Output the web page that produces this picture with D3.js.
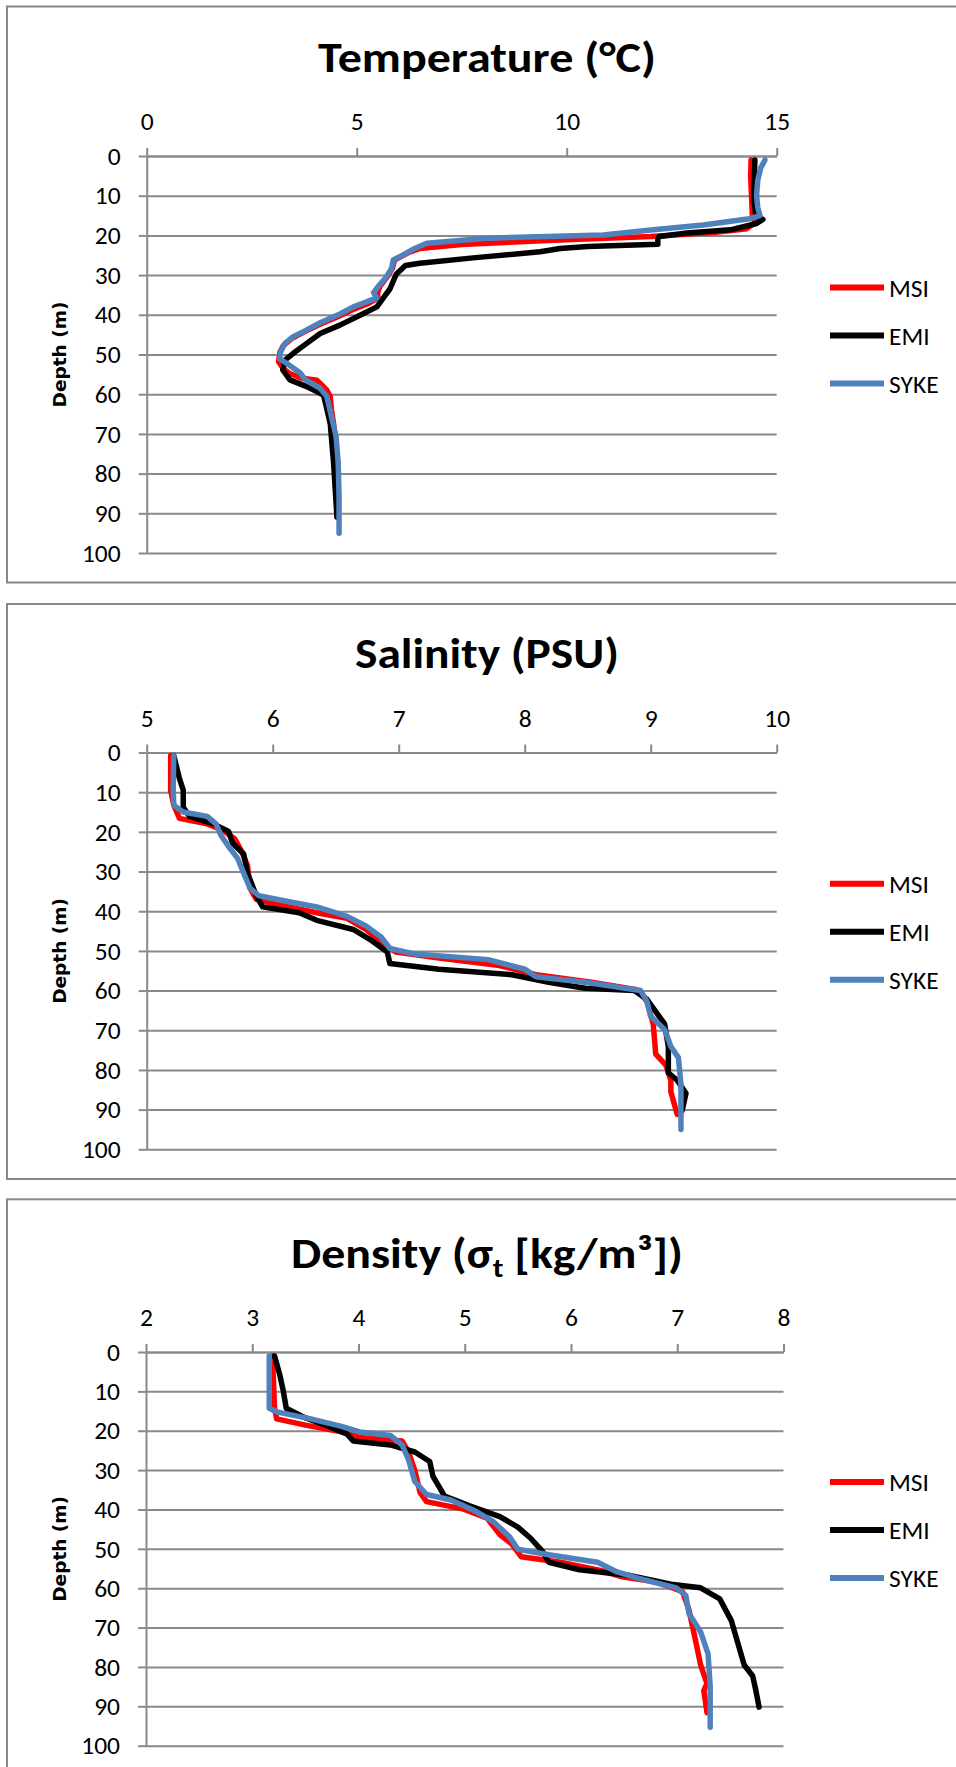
<!DOCTYPE html>
<html>
<head>
<meta charset="utf-8">
<script src="https://cdn.jsdelivr.net/npm/d3@7"></script>
<style>
  body { margin: 0; background: #fff; }
  svg { display: block; }
  .tick text { font-family: Carlito, Calibri, "Liberation Sans", sans-serif; font-size: 25.5px; fill: #000; }
</style>
</head>
<body>
<svg id="chart"></svg>
<script>
// series are [value, depth] pairs
const depthTicks = [0, 10, 20, 30, 40, 50, 60, 70, 80, 90, 100];
const seriesNames = ["MSI", "EMI", "SYKE"];
const seriesColors = ["#ff0000", "#000000", "#4f81bd"];

const tempTicks = [0, 5, 10, 15];
const tempMSI = [[14.39,1],[14.38,5],[14.4,10],[14.42,15],[14.5,16],[14.45,17],[14.29,18.3],[13.5,19.3],[12.0,20.3],[9.7,21.2],[7.5,22.3],[6.5,23.3],[6.2,24.5],[5.9,26.2],[5.85,28.3],[5.73,30.4],[5.55,32.9],[5.5,34.4],[5.5,35.8],[5.3,37],[4.95,38.5],[4.55,40.5],[4.1,42.5],[3.75,44.3],[3.45,46],[3.25,47.8],[3.17,49.5],[3.14,51.8],[3.25,53.5],[3.41,54.8],[3.7,56],[4.05,56.5],[4.15,57.5],[4.29,59],[4.37,60.6],[4.4,64],[4.45,67.4],[4.48,72],[4.51,78],[4.52,85],[4.53,91]];
const tempEMI = [[14.48,1],[14.47,5],[14.45,10],[14.5,15],[14.67,16],[14.52,17],[13.9,18.6],[12.86,19.4],[12.2,20.3],[12.17,21],[12.17,22.2],[10.5,22.8],[9.84,23.3],[9.37,24.1],[7.83,25.6],[6.5,27.0],[6.16,27.6],[5.94,29.8],[5.79,33.5],[5.63,35.8],[5.48,38],[5.08,40.1],[4.6,42.6],[4.13,44.7],[3.81,47.2],[3.49,49.7],[3.29,51.4],[3.24,53.9],[3.41,56.4],[3.81,58.1],[4.21,60.2],[4.37,67.4],[4.45,77.4],[4.53,90.9]];
const tempSYKE = [[14.72,1],[14.62,3],[14.55,6],[14.52,10],[14.55,13],[14.6,15],[14.36,15.8],[14.13,16.1],[13.25,17.4],[12.06,18.6],[10.87,19.9],[8.1,20.7],[6.67,22],[6.38,23.3],[6.11,24.9],[5.87,26.2],[5.83,28.3],[5.71,30.4],[5.51,32.9],[5.4,34.4],[5.48,35.8],[5.24,36.7],[4.92,38],[4.6,39.8],[4.13,42],[3.81,43.8],[3.49,45.5],[3.29,47.2],[3.19,49.3],[3.16,51],[3.33,52.2],[3.65,54.6],[3.77,56.3],[4.13,58.5],[4.29,60.6],[4.4,65.7],[4.51,70.7],[4.56,77.4],[4.58,85.8],[4.58,95]];

const salTicks = [5, 6, 7, 8, 9, 10];
const salMSI = [[5.19,0.8],[5.19,9.5],[5.215,13.3],[5.26,16.6],[5.48,18],[5.6,19.5],[5.7,21.8],[5.75,24.7],[5.8,28.5],[5.82,34.2],[5.87,37],[6.06,38.5],[6.35,40.4],[6.59,41.8],[6.74,44.6],[6.88,48.4],[6.98,50.3],[7.32,51.8],[7.8,53.7],[8.09,56],[8.53,57.9],[8.89,59.8],[8.97,62.7],[9.02,68.4],[9.04,76],[9.12,78.8],[9.16,82.6],[9.16,85.5],[9.21,91.2]];
const salEMI = [[5.215,0.8],[5.26,6.6],[5.29,9.5],[5.29,13.8],[5.34,16.1],[5.53,18],[5.65,19.9],[5.68,22.8],[5.77,25.6],[5.8,30.4],[5.87,36.1],[5.92,38.9],[6.21,40.4],[6.35,42.3],[6.64,44.6],[6.79,47.5],[6.91,50.3],[6.93,53.2],[7.32,54.6],[7.9,56],[8.19,57.9],[8.48,59.4],[8.87,60],[8.97,62.2],[9.11,68.4],[9.14,74.1],[9.14,80.7],[9.21,82.6],[9.28,85.9],[9.25,90.2]];
const salSYKE = [[5.215,0.8],[5.21,9.5],[5.215,13.3],[5.29,15],[5.48,16.1],[5.55,18],[5.59,20.9],[5.65,23.7],[5.72,26.6],[5.77,30.4],[5.82,34.2],[5.89,36.1],[6.11,37.5],[6.35,38.9],[6.59,41.3],[6.74,43.7],[6.86,46.5],[6.93,49.4],[7.13,50.8],[7.71,52.2],[8.0,54.6],[8.09,56.5],[8.48,57.9],[8.92,60],[8.97,62.7],[9.0,66.5],[9.11,69.8],[9.16,74.1],[9.22,76.9],[9.24,83.6],[9.24,95]];

const denTicks = [2, 3, 4, 5, 6, 7, 8];
const denMSI = [[3.19,1],[3.21,14.3],[3.23,17],[3.49,18.5],[3.84,20.3],[4.01,21.7],[4.41,22.6],[4.47,25.4],[4.53,30.1],[4.58,35.7],[4.64,38],[4.99,39.9],[5.21,42.2],[5.33,46.4],[5.44,48.7],[5.53,52],[5.9,53.4],[6.31,55.7],[6.48,57.1],[6.82,58.5],[7.05,60.9],[7.11,65.5],[7.17,73],[7.22,79.5],[7.28,84.2],[7.25,86],[7.28,91.6]];
const denEMI = [[3.21,1],[3.26,5.9],[3.29,9.6],[3.32,14.3],[3.49,16.6],[3.72,18.9],[3.89,20.8],[3.95,22.6],[4.3,23.6],[4.53,25.4],[4.67,27.8],[4.7,31.5],[4.81,36.6],[5.04,39],[5.33,41.8],[5.5,44.5],[5.62,47.3],[5.73,50.6],[5.79,53.4],[6.08,55.3],[6.54,56.7],[6.94,59],[7.22,59.9],[7.4,62.7],[7.51,68.3],[7.57,73.9],[7.63,79.5],[7.71,82.3],[7.74,86],[7.77,90.2]];
const denSYKE = [[3.16,1],[3.16,14.3],[3.23,15.2],[3.55,17],[3.84,18.9],[4.01,20.3],[4.3,21.2],[4.41,23.6],[4.47,27.3],[4.53,32.9],[4.64,36.2],[4.87,37.6],[5.1,40.4],[5.27,43.1],[5.42,46.9],[5.5,50.1],[5.79,51.5],[6.25,53.4],[6.42,55.7],[6.65,57.6],[6.99,59.9],[7.08,61.8],[7.11,66.4],[7.22,71.1],[7.29,76.7],[7.31,85.1],[7.31,95.3]];

const W = 956, H = 1767;
const svg = d3.select("#chart").attr("width", W).attr("height", H);

const panels = [
  { top: 6.5, h: 576, x0: 146.7, x1: 776.7, y0: 156, y1: 553, dom: [0, 15], ticks: tempTicks,
    series: [tempMSI, tempEMI, tempSYKE], title: "temp", titleY: 71.5, titleW: 338, legY: 287.6 },
  { top: 604, h: 575, x0: 146.7, x1: 776.7, y0: 752.5, y1: 1149.3, dom: [5, 10], ticks: salTicks,
    series: [salMSI, salEMI, salSYKE], title: "sal", titleY: 668.3, titleW: 264, legY: 883.7 },
  { top: 1199.3, h: 700, x0: 146, x1: 783.5, y0: 1352, y1: 1745.7, dom: [2, 8], ticks: denTicks,
    series: [denMSI, denEMI, denSYKE], title: "den", titleY: 1268, titleW: 392, legY: 1481.9 }
];

const grey = "#898989";

panels.forEach(p => {
  const g = svg.append("g");

  g.append("rect")
    .attr("x", 7).attr("y", p.top)
    .attr("width", 1100).attr("height", p.h)
    .attr("fill", "#fff").attr("stroke", grey).attr("stroke-width", 2);

  const x = d3.scaleLinear().domain(p.dom).range([p.x0, p.x1]);
  const y = d3.scaleLinear().domain([0, 100]).range([p.y0, p.y1]);

  // horizontal gridlines
  g.append("g")
    .attr("transform", `translate(${p.x0},0)`)
    .call(d3.axisLeft(y).tickValues(depthTicks).tickSize(-(p.x1 - p.x0)).tickFormat(""))
    .call(a => a.select(".domain").remove())
    .call(a => a.selectAll("line").attr("stroke", grey).attr("stroke-width", 2));

  // depth axis
  g.append("g")
    .attr("transform", `translate(${p.x0},0)`)
    .call(d3.axisLeft(y).tickValues(depthTicks).tickSize(8).tickSizeOuter(0).tickPadding(18).tickFormat(d3.format("d")))
    .call(a => a.select(".domain").attr("stroke", grey).attr("stroke-width", 2))
    .call(a => a.selectAll("line").attr("stroke", grey).attr("stroke-width", 2));

  // value axis on top
  g.append("g")
    .attr("transform", `translate(0,${p.y0})`)
    .call(d3.axisTop(x).tickValues(p.ticks).tickSize(8).tickSizeOuter(0).tickPadding(18).tickFormat(d3.format("d")))
    .call(a => a.select(".domain").attr("stroke", grey).attr("stroke-width", 2))
    .call(a => a.selectAll("line").attr("stroke", grey).attr("stroke-width", 2));

  const line = d3.line().x(d => x(d[0])).y(d => y(d[1]));
  g.append("g")
    .selectAll("path")
    .data(p.series)
    .join("path")
    .attr("d", line)
    .attr("fill", "none")
    .attr("stroke", (d, i) => seriesColors[i])
    .attr("stroke-width", 5.5)
    .attr("stroke-linejoin", "round")
    .attr("stroke-linecap", "round");

  // title
  const t = g.append("text")
    .attr("x", 487).attr("y", p.titleY)
    .attr("text-anchor", "middle")
    .attr("font-family", "Carlito, Calibri, 'Liberation Sans', sans-serif")
    .attr("font-weight", "bold")
    .attr("font-size", 42)
    .attr("textLength", p.titleW)
    .attr("lengthAdjust", "spacingAndGlyphs");
  if (p.title === "temp") t.text("Temperature (°C)");
  else if (p.title === "sal") t.text("Salinity (PSU)");
  else {
    t.append("tspan").text("Density (σ");
    t.append("tspan").attr("font-size", 27).attr("dy", 9).text("t");
    t.append("tspan").attr("dy", -9).text(" [kg/m³])");
  }

  // depth label
  g.append("text")
    .attr("transform", `translate(66,${(p.y0 + p.y1) / 2}) rotate(-90)`)
    .attr("text-anchor", "middle")
    .attr("font-family", "'DejaVu Sans', Verdana, sans-serif")
    .attr("font-weight", "bold")
    .attr("font-size", 18.5)
    .text("Depth (m)");

  // legend
  const leg = g.append("g")
    .selectAll("g")
    .data(seriesNames)
    .join("g")
    .attr("transform", (d, i) => `translate(830,${p.legY + i * 48})`);
  leg.append("line")
    .attr("x1", 0).attr("x2", 54)
    .attr("stroke", (d, i) => seriesColors[i])
    .attr("stroke-width", 6);
  leg.append("text")
    .attr("x", 59).attr("dy", "0.35em")
    .attr("font-family", "Carlito, Calibri, 'Liberation Sans', sans-serif")
    .attr("font-size", 25.5)
    .text(d => d);
});
</script>
</body>
</html>
